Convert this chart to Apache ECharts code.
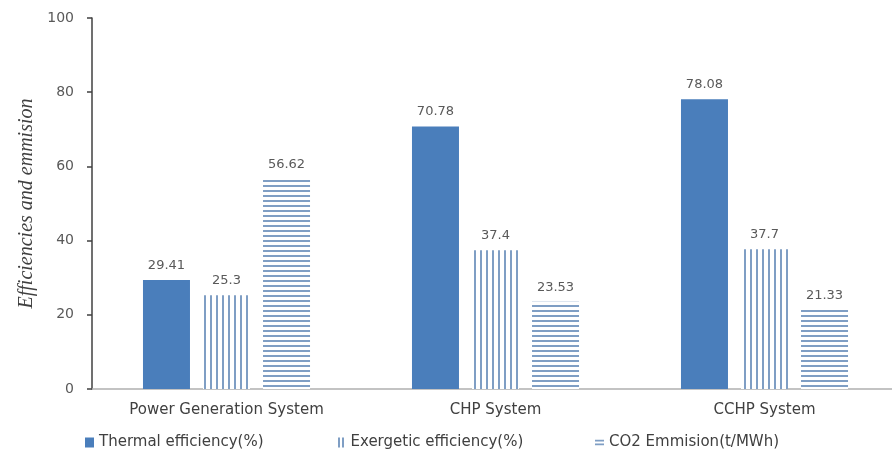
<!DOCTYPE html>
<html>
<head>
<meta charset="utf-8">
<script src="https://cdn.jsdelivr.net/npm/echarts@6/dist/echarts.min.js"></script>
<style>
  html, body { margin: 0; padding: 0; background: #ffffff; overflow: hidden; }
  #chart { width: 900px; height: 450px; }
</style>
</head>
<body>
<div id="chart"></div>
<script>
// Systems compared
const categories = ['Power Generation System', 'CHP System', 'CCHP System'];

// Series values
const thermalEfficiency = [29.41, 70.78, 78.08];
const exergeticEfficiency = [25.3, 37.4, 37.7];
const co2Emission = [56.62, 23.53, 21.33];

// Value-axis ticks
const yTicks = [0, 20, 40, 60, 80, 100];

const seriesNames = ['Thermal efficiency(%)', 'Exergetic efficiency(%)', 'CO2 Emmision(t/MWh)'];

const BLUE = '#4a7ebb';
const HATCH = '#7f9ec4';

// Hatch fills: vertical stripes and horizontal stripes
function stripePattern(vertical) {
  const c = document.createElement('canvas');
  if (vertical) {
    c.width = 6; c.height = 6;
    const g = c.getContext('2d');
    g.fillStyle = '#ffffff';
    g.fillRect(0, 0, 6, 6);
    g.fillStyle = HATCH;
    g.fillRect(0, 0, 2, 6);
  } else {
    c.width = 5; c.height = 5;
    const g = c.getContext('2d');
    g.fillStyle = '#ffffff';
    g.fillRect(0, 0, 5, 5);
    g.fillStyle = HATCH;
    g.fillRect(0, 0, 5, 2);
  }
  return { image: c, repeat: 'repeat' };
}

const labelStyle = {
  show: true,
  position: 'top',
  distance: 8,
  color: '#595959',
  fontSize: 13,
  fontFamily: 'DejaVu Sans, Verdana, sans-serif'
};

const legendText = { fontSize: 15, color: '#404040', fontFamily: 'DejaVu Sans, Verdana, sans-serif' };

function legendAt(left, name, icon, color) {
  return {
    left: left,
    top: 430,
    itemWidth: 9,
    itemHeight: 10,
    itemGap: 4,
    selectedMode: false,
    textStyle: legendText,
    data: [{ name: name, icon: icon, itemStyle: { color: color } }]
  };
}

const chart = echarts.init(document.getElementById('chart'), null, { renderer: 'canvas' });

// The plot runs a few pixels past the right edge of the frame
chart.setOption({
  animation: false,
  backgroundColor: '#ffffff',
  grid: { left: 92, top: 18, bottom: 61, right: 1, containLabel: false },
  legend: [
    legendAt(80, seriesNames[0], 'rect', BLUE),
    legendAt(333, seriesNames[1], 'path://M0,0h2v10h-2z M4,0h2v10h-2z', HATCH),
    legendAt(590, seriesNames[2], 'path://M0,0h10v2h-10z M0,4h10v2h-10z', HATCH)
  ],
  xAxis: {
    type: 'category',
    data: categories,
    boundaryGap: true,
    axisLine: { show: true, lineStyle: { color: '#b0b0b0', width: 1.5 } },
    axisTick: { show: false },
    axisLabel: {
      margin: 14,
      color: '#404040',
      fontSize: 15,
      fontFamily: 'DejaVu Sans, Verdana, sans-serif'
    }
  },
  yAxis: {
    type: 'value',
    min: yTicks[0],
    max: yTicks[yTicks.length - 1],
    interval: yTicks[1] - yTicks[0],
    name: 'Efficiencies and emmision',
    nameLocation: 'middle',
    nameGap: 55,
    nameTextStyle: {
      fontFamily: 'Liberation Serif, Times New Roman, serif',
      fontStyle: 'italic',
      fontSize: 20,
      color: '#404040'
    },
    axisLine: { show: true, lineStyle: { color: '#404040', width: 1.5 } },
    axisTick: { show: true, length: 5, lineStyle: { color: '#404040', width: 1.5 } },
    splitLine: { show: false },
    axisLabel: {
      margin: 18,
      color: '#595959',
      fontSize: 14,
      fontFamily: 'DejaVu Sans, Verdana, sans-serif'
    }
  },
  series: [
    {
      name: seriesNames[0],
      type: 'bar',
      data: thermalEfficiency,
      barWidth: 47,
      barGap: '27.7%',
      itemStyle: { color: BLUE },
      label: labelStyle
    },
    {
      name: seriesNames[1],
      type: 'bar',
      data: exergeticEfficiency,
      barWidth: 47,
      barGap: '27.7%',
      itemStyle: { color: stripePattern(true) },
      label: labelStyle
    },
    {
      name: seriesNames[2],
      type: 'bar',
      data: co2Emission,
      barWidth: 47,
      barGap: '27.7%',
      itemStyle: { color: stripePattern(false) },
      label: labelStyle
    }
  ]
});
</script>
</body>
</html>
